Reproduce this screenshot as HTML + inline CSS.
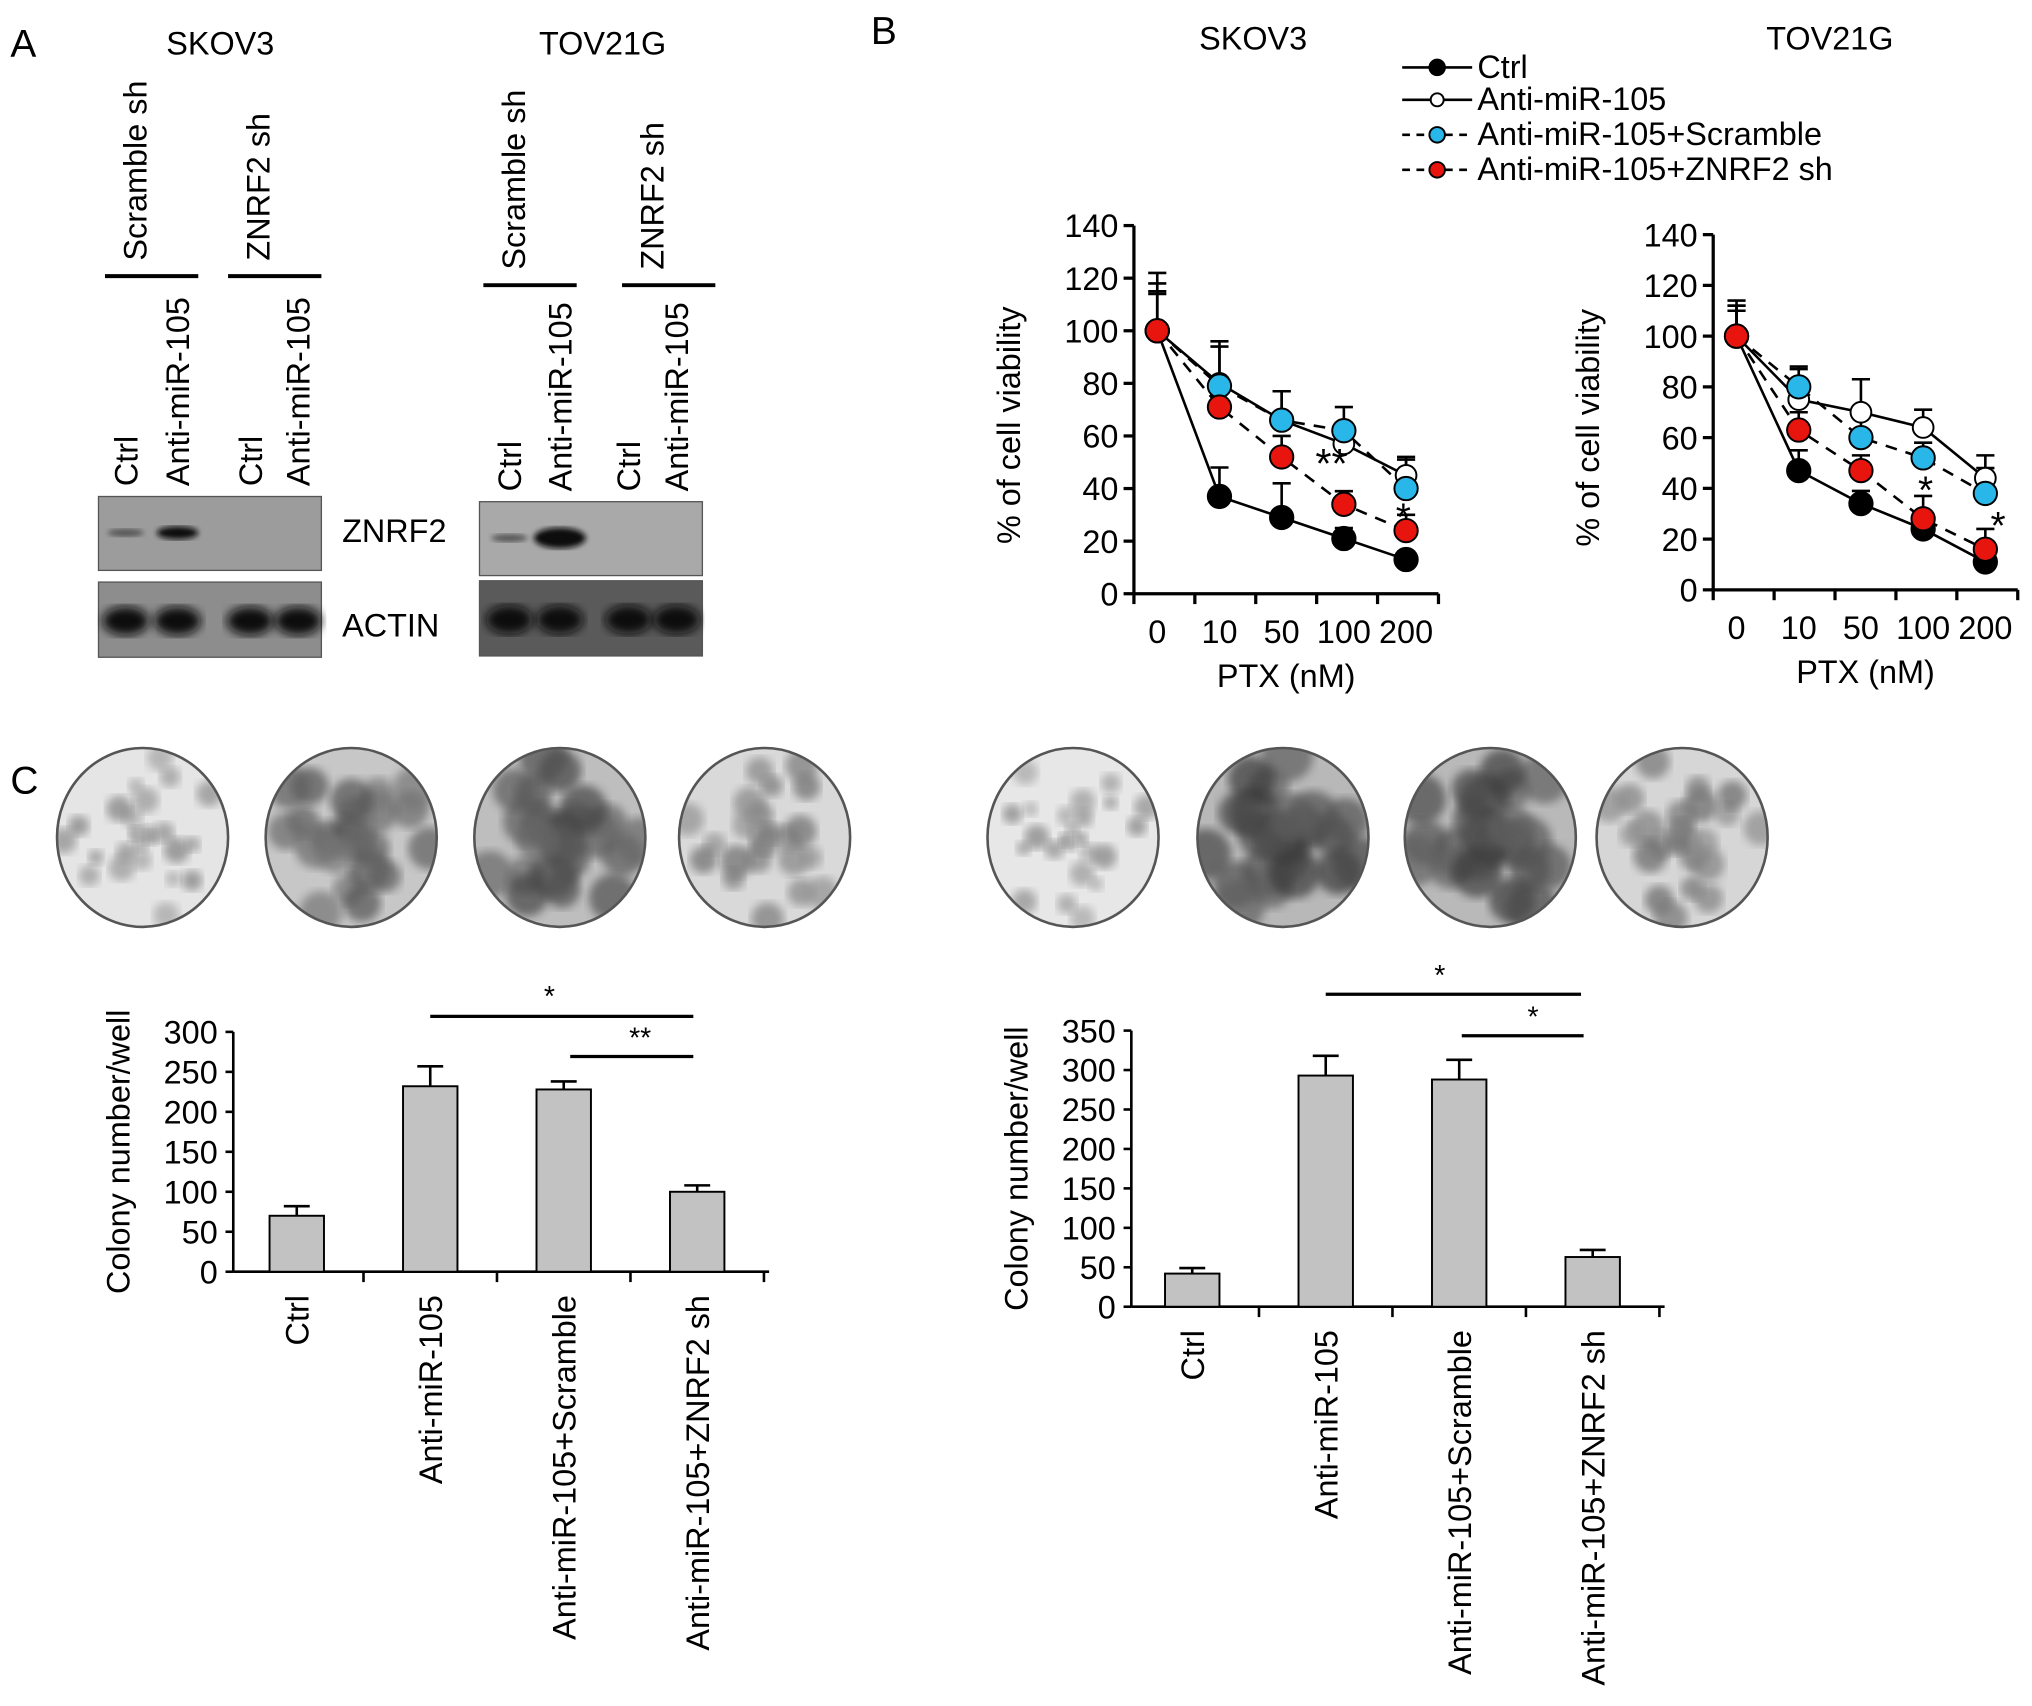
<!DOCTYPE html>
<html><head><meta charset="utf-8">
<style>
html,body{margin:0;padding:0;background:#fff;}
svg{display:block;font-family:"Liberation Sans",Arial,sans-serif;}
</style></head>
<body>
<svg id="fig" width="2032" height="1706" viewBox="0 0 1568 1316" preserveAspectRatio="none" xmlns="http://www.w3.org/2000/svg">
<defs>
<filter id="blur2"><feGaussianBlur stdDeviation="4"/></filter>
<filter id="blur1"><feGaussianBlur stdDeviation="2"/></filter>
<filter id="blur3"><feGaussianBlur stdDeviation="3.5"/></filter>
</defs>
<g id="panelA"></g>
<g id="panelB"></g>
<g id="panelC"></g>
</svg>
<script>
// ---- Panel B data ----
const ptxLabels = ["0","10","50","100","200"];
const yTicksB = [0,20,40,60,80,100,120,140];
const skovCtrl = [100,37,29,21,13];
const skovAnti = [100,80,66,57,45];
const skovScr = [100,79,66,62,40];
const skovZn = [100,71,52,34,24];
const skovErrCtrl = [15,11,13,4,3];
const skovErrAnti = [18,14,11,8,7];
const skovErrScr = [22,17,11,9,11];
const skovErrZn = [14,10,8,5,6];
const tovCtrl = [100,47,34,24,11];
const tovAnti = [100,75,70,64,44];
const tovScr = [100,80,60,52,38];
const tovZn = [100,63,47,28,16];
const tovErrCtrl = [12,8,5,4,3];
const tovErrAnti = [14,12,13,7,9];
const tovErrScr = [12,8,8,6,10];
const tovErrZn = [10,7,6,9,8];
// ---- Panel C data ----
const colonyCats = ["Ctrl","Anti-miR-105","Anti-miR-105+Scramble","Anti-miR-105+ZNRF2 sh"];
const skovColony = [70,232,228,100];
const skovColonyErr = [12,25,10,8];
const skovColonyTicks = [0,50,100,150,200,250,300];
const tovColony = [42,293,288,63];
const tovColonyErr = [7,25,25,9];
const tovColonyTicks = [0,50,100,150,200,250,300,350];

const F=25;
const NS="http://www.w3.org/2000/svg";
function mk(parent,tag,attrs,txt){const e=document.createElementNS(NS,tag);for(const k in attrs)e.setAttribute(k,attrs[k]);if(txt!==undefined)e.textContent=txt;parent.appendChild(e);return e;}

// ---------- Panel A ----------
const A=document.getElementById('panelA');
let t=mk(A,'text',{x:8,y:44,'font-size':30},'A');


function blot(x0,title,titleX,lanes,grpX,barY,znY,acY,dark){
  let g=mk(A,'g',{});
  
  
  let tt=mk(g,'text',{x:titleX,y:42,'font-size':F,'text-anchor':'middle'},title);
  
  
  const grp=["Scramble sh","ZNRF2 sh"];
  for(let i=0;i<2;i++){
    let l=mk(g,'text',{transform:`translate(${grpX[i]},${barY-12}) rotate(-90)`,'font-size':F},grp[i]);
    
    
    let b=mk(g,'line',{x1:grpX[i]-32,x2:grpX[i]+40,y1:barY,y2:barY,stroke:'#000','stroke-width':3});
    
    
  }
  const ln=["Ctrl","Anti-miR-105","Ctrl","Anti-miR-105"];
  lanes.forEach((lx,i)=>{
    let l=mk(g,'text',{transform:`translate(${lx+9},${znY-8}) rotate(-90)`,'font-size':F},ln[i]);
    
    
  });
  let r1=mk(g,'rect',{x:x0,y:znY,width:172,height:57,fill:dark?'#a9a9a9':'#9c9c9c',stroke:'#555','stroke-width':1});
  
  
  mk(g,'ellipse',{cx:lanes[0],cy:znY+28,rx:14,ry:3,fill:'#555',filter:'url(#blur1)'});
  mk(g,'ellipse',{cx:lanes[1],cy:znY+28,rx:dark?20:16,ry:dark?8:5,fill:'#111',filter:'url(#blur1)'});
  let r2=mk(g,'rect',{x:x0,y:acY,width:172,height:58,fill:dark?'#5a5a5a':'#8d8d8d',stroke:'#555','stroke-width':1});
  
  
  lanes.forEach(lx=>mk(g,'ellipse',{cx:lx,cy:acY+30,rx:18,ry:11,fill:'#0a0a0a',filter:'url(#blur2)'}));
}
blot(76,'SKOV3',170,[97,137,193,230],[113,208],213,383,449,false);
blot(370,'TOV21G',465,[393,432,485,522],[405,512],220,387,448,true);
t=mk(A,'text',{x:264,y:418,'font-size':F},'ZNRF2');

t=mk(A,'text',{x:264,y:491,'font-size':F},'ACTIN');


// ---------- Panel B ----------
const B=document.getElementById('panelB');
t=mk(B,'text',{x:672,y:34,'font-size':30},'B');

const legItems=[["Ctrl","#000",false],["Anti-miR-105","#fff",false],["Anti-miR-105+Scramble","#29b6e8",true],["Anti-miR-105+ZNRF2 sh","#e8150f",true]];
legItems.forEach((it,i)=>{
  const y=[52,77,104,131][i];
  let g=mk(B,'g',{});
  
  
  mk(g,'line',{x1:1082,x2:1136,y1:y,y2:y,stroke:'#000','stroke-width':2,'stroke-dasharray':it[2]?'6,5':''});
  mk(g,'circle',{cx:1109,cy:y,r:i==1?5:6,fill:it[1],stroke:'#000','stroke-width':1.5});
  mk(g,'text',{x:1140,y:y+8,'font-size':F},it[0]);
});
function lineChart(title,titleX,ax,y0,y140,xs,series,errs){
  let g=mk(B,'g',{});
  
  
  const yS=v=>y0+(y140-y0)*v/140;
  const xS=i=>xs[0]+i*(xs[1]-xs[0]);
  let tt=mk(g,'text',{x:titleX,y:38,'font-size':F,'text-anchor':'middle'},title);
  
  let ya=mk(g,'line',{x1:ax,x2:ax,y1:y140,y2:y0,stroke:'#000','stroke-width':2.5});
  
  let xa=mk(g,'line',{x1:ax,x2:xS(4)+25,y1:y0,y2:y0,stroke:'#000','stroke-width':2.5});
  
  yTicksB.forEach(v=>{
    mk(g,'line',{x1:ax-8,x2:ax,y1:yS(v),y2:yS(v),stroke:'#000','stroke-width':2.5});
    let l=mk(g,'text',{x:ax-12,y:yS(v)+9,'font-size':F,'text-anchor':'end'},v);
    
  });
  for(let i=0;i<=5;i++){const x=ax+i*(xS(4)+25-ax)/5;mk(g,'line',{x1:x,x2:x,y1:y0,y2:y0+8,stroke:'#000','stroke-width':2.5});}
  ptxLabels.forEach((lab,i)=>{
    let l=mk(g,'text',{x:xS(i),y:y0+38,'font-size':F,'text-anchor':'middle'},lab);
    
  });
  let xt=mk(g,'text',{x:(ax+xS(4)+25)/2,y:y0+72,'font-size':F,'text-anchor':'middle'},'PTX (nM)');
  
  let yt=mk(g,'text',{transform:`translate(${ax-88},${(y0+y140)/2+12}) rotate(-90)`,'font-size':F,'text-anchor':'middle'},'% of cell viability');
  
  const st=[['#000',false,'ctrl'],['#fff',false,'anti'],['#29b6e8',true,'scramble'],['#e8150f',true,'znrf2']];
  series.forEach((s,k)=>s.forEach((v,i)=>{
    const e=errs[k][i];
    mk(g,'line',{x1:xS(i),x2:xS(i),y1:yS(v),y2:yS(v+e),stroke:'#000','stroke-width':2});
    mk(g,'line',{x1:xS(i)-7,x2:xS(i)+7,y1:yS(v+e),y2:yS(v+e),stroke:'#000','stroke-width':2});
  }));
  series.forEach((s,k)=>{
    let p=mk(g,'polyline',{points:s.map((v,i)=>xS(i)+','+yS(v)).join(' '),fill:'none',stroke:'#000','stroke-width':2,'stroke-dasharray':st[k][1]?'9,7':''});
    
  });
  [1,0,2,3].forEach(k=>series[k].forEach((v,i)=>{
    let c=mk(g,'circle',{cx:xS(i),cy:yS(v),r:k==1?8:9,fill:st[k][0],stroke:'#000','stroke-width':1.5});
    
  }));
  return {xS,yS,g};
}
let L=lineChart('SKOV3',967,875,458,174,[893,941],[skovCtrl,skovAnti,skovScr,skovZn],[skovErrCtrl,skovErrAnti,skovErrScr,skovErrZn]);
mk(L.g,'text',{x:L.xS(3)-22,y:L.yS(44),'font-size':32},'**');
mk(L.g,'text',{x:L.xS(4)-8,y:L.yS(24),'font-size':30},'*');
let R=lineChart('TOV21G',1412,1322,455,181,[1340,1388],[tovCtrl,tovAnti,tovScr,tovZn],[tovErrCtrl,tovErrAnti,tovErrScr,tovErrZn]);
mk(R.g,'text',{x:R.xS(3)-4,y:R.yS(34),'font-size':30},'*');
mk(R.g,'text',{x:R.xS(4)+4,y:R.yS(20),'font-size':30},'*');

// ---------- Panel C ----------
const C=document.getElementById('panelC');
t=mk(C,'text',{x:8,y:612,'font-size':30},'C');

const defs=document.querySelector('defs');
const dens=[0.15,0.65,0.8,0.35,0.12,0.9,0.88,0.4];
[110,271,432,590,828,990,1150,1298].forEach((cx,i)=>{
  let g=mk(C,'g',{});
  
  const cy=646;
  const d=dens[i];
  const cp=mk(defs,'clipPath',{id:'cp'+i});
  mk(cp,'ellipse',{cx,cy,rx:66,ry:69});
  const base=Math.round(238-60*d);
  mk(g,'ellipse',{cx,cy,rx:66,ry:69,fill:`rgb(${base},${base},${base})`});
  const inner=mk(g,'g',{'clip-path':`url(#cp${i})`});
  const n=24;
  for(let j=0;j<n;j++){
    const a=j*2.4+i*0.7, r=(j%6)*11+6;
    const sz=4+d*13+(j%3)*2;
    const gray=Math.round(140-90*d+(j%4)*12);
    mk(inner,'circle',{cx:cx+r*Math.cos(a),cy:cy+r*Math.sin(a)*1.03,r:sz,fill:`rgb(${gray},${gray},${gray})`,opacity:0.7,filter:'url(#blur3)'});
  }
  mk(g,'ellipse',{cx,cy,rx:66,ry:69,fill:'none',stroke:'#555','stroke-width':2});
});
function barChart(ax,y0,ytop,ymax,ticks,xs,vals,errs,name){
  let g=mk(C,'g',{});
  
  const yS=v=>y0+(ytop-y0)*v/ymax;
  const step=xs[1]-xs[0];
  const xEnd=xs[0]+3.5*step+4;
  let ya=mk(g,'line',{x1:ax,x2:ax,y1:ytop,y2:y0,stroke:'#000','stroke-width':2});
  
  let xa=mk(g,'line',{x1:ax,x2:xEnd,y1:y0,y2:y0,stroke:'#000','stroke-width':2});
  
  ticks.forEach(v=>{
    mk(g,'line',{x1:ax-6,x2:ax,y1:yS(v),y2:yS(v),stroke:'#000','stroke-width':2});
    let l=mk(g,'text',{x:ax-12,y:yS(v)+9,'font-size':F,'text-anchor':'end'},v);
    
  });
  for(let i=1;i<=4;i++){const x=xs[0]+(i-0.5)*step;mk(g,'line',{x1:x,x2:x,y1:y0,y2:y0+8,stroke:'#000','stroke-width':2});}
  let yt=mk(g,'text',{transform:`translate(${ax-80},${(y0+ytop)/2}) rotate(-90)`,'font-size':F,'text-anchor':'middle'},'Colony number/well');
  
  vals.forEach((v,i)=>{
    const x=xs[0]+i*step;
    mk(g,'line',{x1:x,x2:x,y1:yS(v),y2:yS(v+errs[i]),stroke:'#000','stroke-width':2});
    mk(g,'line',{x1:x-10,x2:x+10,y1:yS(v+errs[i]),y2:yS(v+errs[i]),stroke:'#000','stroke-width':2});
    let b=mk(g,'rect',{x:x-21,y:yS(v),width:42,height:y0-yS(v),fill:'#c2c2c2',stroke:'#000','stroke-width':1.5});
    
    
    let l=mk(g,'text',{transform:`translate(${x+9},${y0+18}) rotate(-90)`,'font-size':F,'text-anchor':'end'},colonyCats[i]);
    
  });
  return {yS,g,xs,step};
}
let c1=barChart(180,981,796,300,skovColonyTicks,[229,332],skovColony,skovColonyErr,'colony-chart-skov3');
mk(c1.g,'line',{x1:332,x2:535,y1:784,y2:784,stroke:'#000','stroke-width':2.5});
mk(c1.g,'text',{x:424,y:776,'font-size':22,'text-anchor':'middle'},'*');
mk(c1.g,'line',{x1:440,x2:535,y1:815,y2:815,stroke:'#000','stroke-width':2.5});
mk(c1.g,'text',{x:494,y:808,'font-size':22,'text-anchor':'middle'},'**');
let c2=barChart(873,1008,795,350,tovColonyTicks,[920,1023],tovColony,tovColonyErr,'colony-chart-tov21g');
mk(c2.g,'line',{x1:1023,x2:1220,y1:767,y2:767,stroke:'#000','stroke-width':2.5});
mk(c2.g,'text',{x:1111,y:760,'font-size':22,'text-anchor':'middle'},'*');
mk(c2.g,'line',{x1:1128,x2:1222,y1:799,y2:799,stroke:'#000','stroke-width':2.5});
mk(c2.g,'text',{x:1183,y:792,'font-size':22,'text-anchor':'middle'},'*');
</script>
</body></html>
